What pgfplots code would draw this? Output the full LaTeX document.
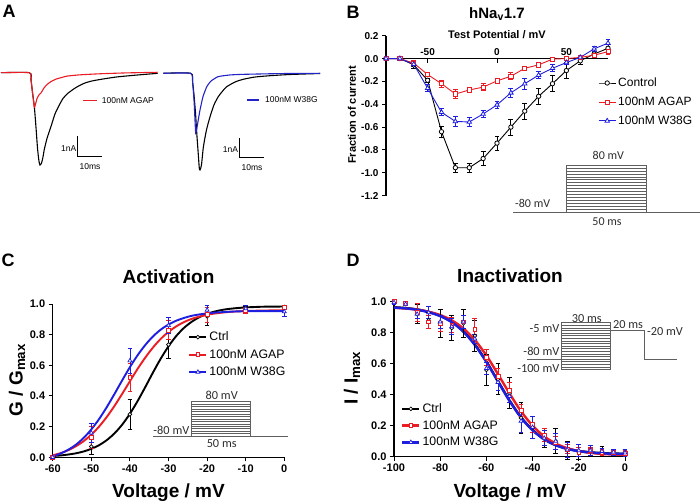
\documentclass[border=0pt]{standalone}
\usepackage{pgfplots}
\usepackage{pgfplotstable}
\pgfplotsset{compat=1.18}
\usepackage{fontspec}
\setmainfont{Liberation Sans}
\newfontfamily\insetfont{Carlito}

\definecolor{myred}{RGB}{235,28,36}
\definecolor{myblue}{RGB}{30,30,225}
\definecolor{tblue}{RGB}{35,35,200}
\definecolor{inset}{RGB}{95,95,95}
\definecolor{insettxt}{RGB}{45,45,45}

\pgfplotsset{
  panel/.style={scale only axis, clip=false,
    axis line style={line width=1.1pt},
    tick style={line width=1pt, black}, major tick length=4pt, tick align=outside,
    /pgf/number format/assume math mode=true,
    ticklabel style={font=\bfseries\fontsize{11}{12}\selectfont},
    legend cell align=left},
  ebar/.style={error bars/y dir=both, error bars/y explicit,
    error bars/error bar style={line width=0.8pt},
    error bars/error mark options={rotate=90, mark size=2.4pt, line width=0.8pt}},
  trace/.style={hide axis, x=2.4pt, y=20.7pt, xmin=0, xmax=66, ymin=-5, ymax=0.2, clip=false},
}

% panel B: current-voltage relation
\pgfplotstableread{
v c ce a ae w we
-80 0 0.01 0 0.01 0 0.01
-70 0 0.01 0 0.01 0 0.01
-60 -0.055 0.03 -0.04 0.02 -0.05 0.02
-50 -0.19 0.02 -0.14 0.02 -0.26 0.03
-40 -0.64 0.05 -0.22 0.03 -0.47 0.03
-30 -0.955 0.04 -0.31 0.04 -0.55 0.04
-20 -0.955 0.04 -0.275 0.02 -0.555 0.04
-10 -0.875 0.06 -0.25 0.03 -0.485 0.03
0 -0.74 0.06 -0.195 0.02 -0.405 0.03
10 -0.60 0.07 -0.155 0.03 -0.30 0.04
20 -0.46 0.07 -0.085 0.02 -0.22 0.05
30 -0.33 0.07 -0.055 0.02 -0.145 0.03
40 -0.22 0.07 -0.005 0.01 -0.085 0.03
50 -0.105 0.07 0.0 0.01 -0.035 0.02
60 -0.02 0.03 0.01 0.01 0.01 0.01
70 0.04 0.02 0.03 0.01 0.085 0.02
80 0.09 0.02 0.06 0.02 0.135 0.03
}\tabB

% panel C: activation points and fits
\pgfplotstableread{
v c ce a ae w we
-60 0 0.01 0 0.01 0 0.01
-50 0.07 0.05 0.13 0.07 0.16 0.06
-40 0.28 0.095 0.52 0.09 0.63 0.08
-30 0.735 0.09 0.83 0.06 0.86 0.05
-20 0.92 0.06 0.93 0.05 0.96 0.03
-10 0.975 0.01 0.96 0.02 0.97 0.02
0 0.98 0.01 0.98 0.01 0.95 0.03
}\tabCpts
\pgfplotstableread{
v c a w
-60 0.0085 0.013 0.006
-58 0.012 0.027 0.024
-56 0.018 0.046 0.049
-54 0.026 0.072 0.082
-52 0.038 0.105 0.126
-50 0.055 0.148 0.182
-48 0.079 0.200 0.249
-46 0.112 0.263 0.327
-44 0.156 0.335 0.413
-42 0.213 0.414 0.502
-40 0.284 0.496 0.588
-38 0.367 0.577 0.666
-36 0.459 0.651 0.733
-34 0.554 0.717 0.789
-32 0.644 0.773 0.833
-30 0.724 0.818 0.866
-28 0.791 0.854 0.891
-26 0.844 0.882 0.909
-24 0.884 0.903 0.923
-22 0.914 0.918 0.932
-20 0.936 0.930 0.939
-18 0.951 0.938 0.944
-16 0.962 0.944 0.947
-14 0.969 0.949 0.950
-12 0.974 0.952 0.952
-10 0.978 0.954 0.953
-8 0.980 0.956 0.954
-6 0.982 0.957 0.954
-4 0.983 0.958 0.954
-2 0.983 0.958 0.954
0 0.984 0.959 0.954
}\tabCfit

% panel D: inactivation points and fits
\pgfplotstableread{
v c ce a ae w we
-100 1.0 0.01 1.0 0.01 0.995 0.01
-95 0.985 0.01 0.99 0.01 0.985 0.01
-90 0.92 0.06 0.93 0.06 0.92 0.03
-85 0.88 0.05 0.87 0.04 0.93 0.04
-80 0.86 0.09 0.86 0.05 0.87 0.04
-75 0.83 0.08 0.85 0.05 0.84 0.05
-70 0.86 0.09 0.87 0.04 0.87 0.04
-65 0.78 0.10 0.82 0.07 0.76 0.03
-60 0.56 0.10 0.64 0.05 0.57 0.04
-55 0.50 0.10 0.52 0.05 0.48 0.05
-50 0.41 0.10 0.43 0.05 0.39 0.04
-45 0.25 0.10 0.30 0.04 0.23 0.07
-40 0.19 0.07 0.21 0.05 0.19 0.07
-35 0.12 0.06 0.14 0.04 0.12 0.05
-30 0.10 0.08 0.09 0.04 0.10 0.05
-25 0.04 0.06 0.05 0.03 0.045 0.05
-20 0.03 0.05 0.03 0.03 0.04 0.04
-15 0.04 0.03 0.04 0.02 0.04 0.03
-10 0.035 0.03 0.03 0.02 0.035 0.02
-5 0.03 0.02 0.03 0.02 0.03 0.02
0 0.025 0.02 0.02 0.02 0.025 0.02
}\tabDpts
\pgfplotstableread{
v c a w
-100 0.964 0.961 0.962
-95 0.959 0.956 0.957
-90 0.950 0.949 0.948
-85 0.934 0.935 0.932
-80 0.909 0.914 0.907
-75 0.870 0.880 0.868
-70 0.810 0.828 0.807
-65 0.724 0.753 0.721
-60 0.614 0.653 0.611
-55 0.488 0.533 0.485
-50 0.363 0.408 0.360
-45 0.254 0.293 0.252
-40 0.172 0.200 0.170
-35 0.113 0.131 0.112
-30 0.075 0.085 0.074
-25 0.051 0.055 0.050
-20 0.037 0.036 0.036
-15 0.028 0.025 0.027
-10 0.023 0.018 0.022
-5 0.020 0.014 0.019
0 0.019 0.0115 0.018
}\tabDfit

\begin{document}
\begin{tikzpicture}
\path[use as bounding box] (0,0) rectangle (700pt,-503pt);

% ---------- A: current traces (ms, nA) ----------
\begin{axis}[trace, at={(1pt,-176.2pt)}, anchor=south west]
\addplot[black, line width=1.1pt, smooth, tension=0.4] coordinates {
(0,0) (11.8,0) (12.5,-0.35) (13.1,-0.93) (13.9,-1.66) (14.6,-2.67) (15.2,-3.63)
(15.8,-4.26) (16.25,-4.46) (16.9,-4.36) (17.5,-4.07) (18.0,-3.73) (19.2,-3.16)
(20.8,-2.61) (22.5,-1.99) (24.3,-1.56) (25.8,-1.25) (27.8,-1.0) (31.25,-0.715)
(34.7,-0.51) (37.9,-0.40) (41.7,-0.32) (47.9,-0.21) (55.4,-0.126) (60.4,-0.077) (65.3,-0.03)};
\addplot[myred, line width=1.1pt, smooth, tension=0.3] coordinates {
(0,0) (11.8,0) (12.5,-0.35) (13.1,-0.93) (13.9,-1.67) (14.4,-1.51) (15,-1.25)
(15.8,-1.08) (16.7,-0.97) (17.9,-0.74) (19.2,-0.57) (20.8,-0.43) (22.9,-0.31)
(25,-0.24) (27.8,-0.16) (33.3,-0.10) (41.7,-0.05) (52.1,-0.01) (65.3,0.02)};
\end{axis}
\begin{axis}[trace, at={(163.3pt,-176.8pt)}, anchor=south west]
\addplot[black, line width=1.1pt, smooth, tension=0.4] coordinates {
(0,0) (11.4,0) (12.2,-0.42) (12.8,-1.06) (13.4,-1.88) (14.0,-2.99) (14.6,-3.95)
(15,-4.58) (15.3,-4.67) (15.9,-4.43) (16.7,-3.56) (18,-2.73) (19.5,-2.09)
(21.1,-1.53) (22.9,-1.13) (24.7,-0.86) (26.4,-0.65) (29.9,-0.42) (33.3,-0.29)
(38.2,-0.18) (44.5,-0.116) (52.8,-0.058) (65.3,-0.01)};
\addplot[tblue, line width=1.1pt, smooth, tension=0.3] coordinates {
(0,0) (11.4,0) (12.2,-0.42) (12.8,-1.30) (13.2,-2.25) (13.5,-2.89) (14.0,-2.64)
(14.7,-2.16) (15.3,-1.77) (16.5,-1.14) (18.1,-0.65) (19.9,-0.37) (22.9,-0.16)
(27.8,-0.08) (33.3,-0.05) (48.6,-0.014) (65.3,0)};
\end{axis}

% ---------- B: I-V ----------
\begin{axis}[panel, at={(386pt,-195.7pt)}, anchor=south west, width=222pt, height=160pt,
  xmin=-80, xmax=80, ymin=-1.2, ymax=0.2,
  axis x line*=middle, axis y line*=left,
  xtick={-50,0,50}, ytick={-1.2,-1.0,-0.8,-0.6,-0.4,-0.2,0,0.2},
  yticklabel={\pgfmathprintnumber[fixed,fixed zerofill,precision=1]{\tick}},
  ticklabel style={font=\bfseries\fontsize{10}{12}\selectfont},
  xticklabel style={anchor=south, yshift=3pt},
  legend style={at={(0.955,0.75)}, anchor=north west, draw=none, fill=none,
    font=\fontsize{12}{14}\selectfont, row sep=5pt, inner sep=0pt}]
\addplot[black, line width=0.9pt, mark=*, mark size=2.2pt, mark options={fill=white, line width=0.8pt}, ebar]
  table[x=v, y=c, y error=ce]{\tabB};
\addlegendentry{Control}
\addplot[myred, line width=0.9pt, mark=square*, mark size=2.1pt, mark options={fill=white, line width=0.8pt}, ebar]
  table[x=v, y=a, y error=ae]{\tabB};
\addlegendentry{100nM AGAP}
\addplot[myblue, line width=0.9pt, mark=triangle*, mark size=2.6pt, mark options={fill=white, line width=0.8pt}, ebar]
  table[x=v, y=w, y error=we]{\tabB};
\addlegendentry{100nM W38G}
\end{axis}

% ---------- C: activation ----------
\begin{axis}[panel, at={(52.7pt,-457.3pt)}, anchor=south west, width=231.6pt, height=153.3pt,
  xmin=-60, xmax=0, ymin=0, ymax=1, axis lines*=left,
  xtick={-60,-50,...,0}, ytick={0,0.2,0.4,0.6,0.8,1.0},
  yticklabel={\pgfmathprintnumber[fixed,fixed zerofill,precision=1]{\tick}},
  legend style={at={(0.585,0.832)}, anchor=north west, draw=none, fill=none,
    font=\fontsize{12.3}{14}\selectfont, row sep=3.3pt, inner sep=0pt}]
\addplot[black, line width=1.9pt, smooth, forget plot] table[x=v, y=c]{\tabCfit};
\addplot[myred, line width=1.9pt, smooth, forget plot] table[x=v, y=a]{\tabCfit};
\addplot[myblue, line width=1.9pt, smooth, forget plot] table[x=v, y=w]{\tabCfit};
\addplot[black, only marks, mark=*, mark size=1.9pt, mark options={fill=white, line width=0.7pt}, forget plot, ebar]
  table[x=v, y=c, y error=ce]{\tabCpts};
\addplot[myred, only marks, mark=square*, mark size=1.9pt, mark options={fill=white, line width=0.7pt}, forget plot, ebar]
  table[x=v, y=a, y error=ae]{\tabCpts};
\addplot[myblue, only marks, mark=triangle*, mark size=2.3pt, mark options={fill=white, line width=0.7pt}, forget plot, ebar]
  table[x=v, y=w, y error=we]{\tabCpts};
\addlegendimage{black, line width=2pt, mark=*, mark size=1.9pt, mark options={fill=white, line width=0.7pt}}
\addlegendentry{Ctrl}
\addlegendimage{myred, line width=2pt, mark=square*, mark size=1.9pt, mark options={fill=white, line width=0.7pt}}
\addlegendentry{100nM AGAP}
\addlegendimage{myblue, line width=2pt, mark=triangle*, mark size=2.3pt, mark options={fill=white, line width=0.7pt}}
\addlegendentry{100nM W38G}
\end{axis}

% ---------- D: inactivation ----------
\begin{axis}[panel, at={(394pt,-456.7pt)}, anchor=south west, width=231pt, height=155pt,
  xmin=-100, xmax=0, ymin=0, ymax=1, axis lines*=left,
  xtick={-100,-80,...,0}, ytick={0,0.2,0.4,0.6,0.8,1.0},
  yticklabel={\pgfmathprintnumber[fixed,fixed zerofill,precision=1]{\tick}},
  legend style={at={(0.03,0.357)}, anchor=north west, draw=none, fill=none,
    font=\fontsize{12.3}{14}\selectfont, row sep=2.6pt, inner sep=0pt}]
\addplot[black, line width=2.4pt, smooth, forget plot] table[x=v, y=c]{\tabDfit};
\addplot[myred, line width=2.4pt, smooth, forget plot] table[x=v, y=a]{\tabDfit};
\addplot[myblue, line width=2.4pt, smooth, forget plot] table[x=v, y=w]{\tabDfit};
\addplot[black, only marks, mark=*, mark size=1.9pt, mark options={fill=white, line width=0.7pt}, forget plot, ebar]
  table[x=v, y=c, y error=ce]{\tabDpts};
\addplot[myred, only marks, mark=square*, mark size=1.9pt, mark options={fill=white, line width=0.7pt}, forget plot, ebar]
  table[x=v, y=a, y error=ae]{\tabDpts};
\addplot[myblue, only marks, mark=triangle*, mark size=2.3pt, mark options={fill=white, line width=0.7pt}, forget plot, ebar]
  table[x=v, y=w, y error=we]{\tabDpts};
\addlegendimage{black, line width=2.4pt, mark=*, mark size=1.9pt, mark options={fill=white, line width=0.7pt}}
\addlegendentry{Ctrl}
\addlegendimage{myred, line width=2.4pt, mark=square*, mark size=1.9pt, mark options={fill=white, line width=0.7pt}}
\addlegendentry{100nM AGAP}
\addlegendimage{myblue, line width=2.4pt, mark=triangle*, mark size=2.3pt, mark options={fill=white, line width=0.7pt}}
\addlegendentry{100nM W38G}
\end{axis}

% ---------- text, scale bars and pulse protocols (pixel coordinates) ----------
\begin{scope}[x=1pt, y=-1pt]
\foreach \l/\px/\py in {A/9/11, B/353/12, C/8/260, D/353/260}
  \node[font=\bfseries\fontsize{18}{20}\selectfont] at (\px,\py) {\l};

% A scale bars and labels
\draw[black, line width=1pt] (77.7,136) -- (77.7,156.7) -- (101.7,156.7);
\draw[black, line width=1pt] (239.3,138.3) -- (239.3,157.3) -- (264,157.3);
\node[anchor=east, inner sep=0pt, font=\fontsize{8.5}{10}\selectfont] at (76.5,148.3) {1nA};
\node[anchor=east, inner sep=0pt, font=\fontsize{8.5}{10}\selectfont] at (238.2,150) {1nA};
\node[font=\fontsize{8.5}{10}\selectfont] at (90,166.5) {10ms};
\node[font=\fontsize{8.5}{10}\selectfont] at (252,167.3) {10ms};
\draw[myred, line width=1.3pt] (83.3,100.7) -- (96.7,100.7);
\node[anchor=west, inner sep=0pt, font=\fontsize{8.5}{10}\selectfont] at (101.7,100.7) {100nM AGAP};
\draw[tblue, line width=1.3pt] (247.3,100) -- (259,100);
\node[anchor=west, inner sep=0pt, font=\fontsize{8.5}{10}\selectfont] at (265,100) {100nM W38G};

% B titles
\node[anchor=base, font=\bfseries\fontsize{15}{17}\selectfont] at (497,18.5) {hNa\textsubscript{v}1.7};
\node[anchor=base, font=\bfseries\fontsize{11}{13}\selectfont] at (497,39) {Test Potential / mV};
\node[rotate=90, font=\bfseries\fontsize{11}{13}\selectfont] at (352,115) {Fraction of current};

% C, D titles
\node[anchor=base, font=\bfseries\fontsize{19}{22}\selectfont] at (168.5,283) {Activation};
\node[anchor=base, font=\bfseries\fontsize{19}{22}\selectfont] at (510,282) {Inactivation};
\node[anchor=base, font=\bfseries\fontsize{19}{22}\selectfont] at (168.5,497) {Voltage / mV};
\node[anchor=base, font=\bfseries\fontsize{19}{22}\selectfont] at (510,497.5) {Voltage / mV};
\node[rotate=90, font=\bfseries\fontsize{19}{22}\selectfont] at (17,380) {G / G\textsubscript{max}};
\node[rotate=90, font=\bfseries\fontsize{19}{22}\selectfont] at (352,378) {I / I\textsubscript{max}};

% B protocol
\draw[inset, line width=0.7pt] (513.3,212) -- (700,212);
\draw[inset, line width=0.7pt] (566.7,212) rectangle (646.7,165);
\foreach \k in {1,...,15} \draw[inset, line width=0.45pt] (566.7,165+\k*2.94) -- (646.7,165+\k*2.94);
\begin{scope}[font=\insetfont\fontsize{12}{14}\selectfont, text=insettxt]
\node at (608.3,155) {80 mV};
\node at (532.7,203.3) {-80 mV};
\node at (607,221.7) {50 ms};
\end{scope}

% C protocol
\draw[inset, line width=0.7pt] (153,436) -- (288,436);
\draw[inset, line width=0.7pt] (191,436) rectangle (250,401.7);
\foreach \k in {1,...,13} \draw[inset, line width=0.45pt] (191,401.7+\k*2.45) -- (250,401.7+\k*2.45);
\begin{scope}[font=\insetfont\fontsize{12.3}{14}\selectfont, text=insettxt]
\node at (221.7,395.5) {80 mV};
\node[anchor=east, inner sep=1pt] at (190.5,430) {-80 mV};
\node at (221.7,444) {50 ms};
\end{scope}

% D protocol
\draw[inset, line width=0.7pt] (527,359.3) -- (561,359.3);
\draw[inset, line width=0.7pt] (561,322.7) rectangle (610.7,369.3);
\foreach \k in {1,...,17} \draw[inset, line width=0.45pt] (561,322.7+\k*2.59) -- (610.7,322.7+\k*2.59);
\draw[inset, line width=0.7pt] (610.7,330) -- (644,330) -- (644,359.3) -- (676.7,359.3);
\begin{scope}[font=\insetfont\fontsize{12.3}{14}\selectfont, text=insettxt]
\node[anchor=east, inner sep=1pt] at (560.5,328.3) {-5 mV};
\node[anchor=east, inner sep=1pt] at (560.5,351.7) {-80 mV};
\node[anchor=east, inner sep=1pt] at (560.5,368.3) {-100 mV};
\node at (586.7,318.5) {30 ms};
\node at (628,325) {20 ms};
\node at (665,331.7) {-20 mV};
\end{scope}
\end{scope}
\end{tikzpicture}
\end{document}
